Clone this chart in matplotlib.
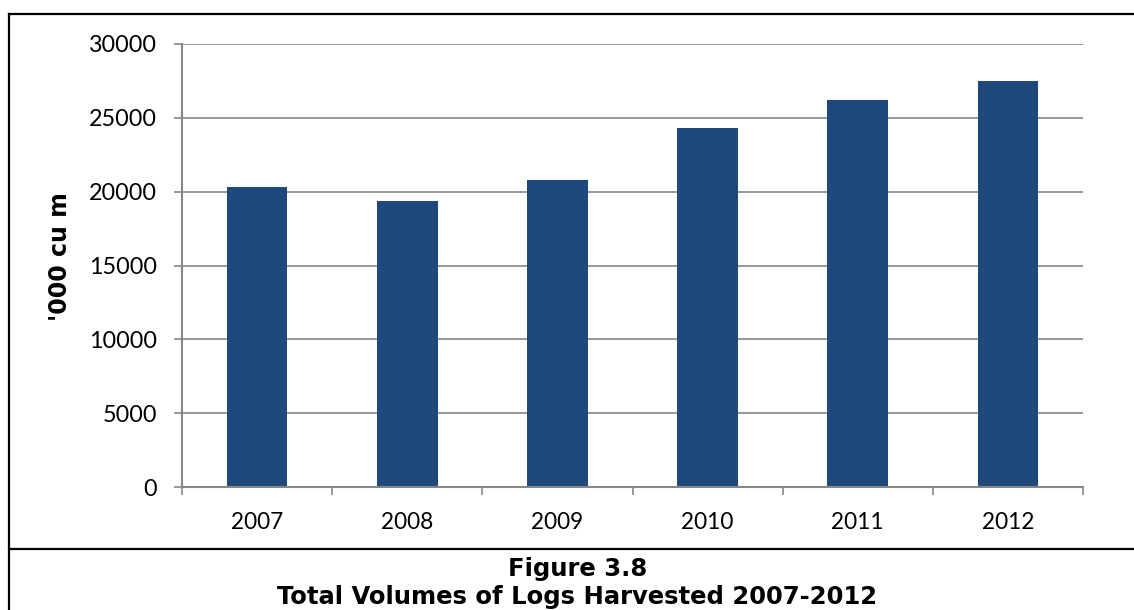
import numpy as np
import matplotlib
matplotlib.use('Agg')
from matplotlib import pyplot as plt
from matplotlib.lines import Line2D

years = ['2007', '2008', '2009', '2010', '2011', '2012']
volumes = [20300, 19400, 20800, 24300, 26200, 27500]
y_ticks = [0, 5000, 10000, 15000, 20000, 25000, 30000]

bar_color = '#1f497d'
grid_color = '#878787'
label_font = 'Lato'


def main():
    fig = plt.figure(figsize=(11.34, 6.10), dpi=100)
    ax = fig.add_axes([182/1134, 1-487/610, 901/1134, 443/610])

    x = np.arange(len(years))
    ax.bar(x, volumes, width=0.405, color=bar_color, zorder=2)

    ax.set_xlim(-0.5, len(years)-0.5)
    ax.set_ylim(0, 30000)
    ax.set_yticks(y_ticks)
    ax.set_yticklabels([str(v) for v in y_ticks], fontsize=16.8, family=label_font)
    ax.yaxis.grid(True, color=grid_color, linewidth=1.2, zorder=0)
    ax.set_axisbelow(True)

    # boundaries get the outward ticks, centres get the labels
    ax.set_xticks(np.arange(-0.5, len(years), 1.0))
    ax.set_xticklabels([])
    ax.set_xticks(list(x) + [len(years)-0.5], minor=True)
    ax.set_xticklabels(years + [''], minor=True, fontsize=16.3, family=label_font)

    ax.tick_params(axis='y', which='major', direction='out', length=6, width=1.2,
                   color=grid_color, pad=12)
    ax.tick_params(axis='x', which='major', direction='out', length=6, width=1.2,
                   color=grid_color)
    ax.tick_params(axis='x', which='minor', direction='in', length=5, width=1.2,
                   color=grid_color, pad=18)
    for t in ax.xaxis.get_minor_ticks():
        t.tick1line.set_zorder(5)

    for side in ['top', 'right']:
        ax.spines[side].set_visible(False)
    for side in ['left', 'bottom']:
        ax.spines[side].set_color(grid_color)
        ax.spines[side].set_linewidth(1.5)

    ax.set_ylabel("'000 cu m", fontsize=17, fontweight='bold', family='DejaVu Sans')
    ax.yaxis.set_label_coords((72-182)/901, 0.52)

    # frame around the figure and caption
    lw = 1.6
    fig.add_artist(Line2D([9/1134, 1], [1-14/610, 1-14/610], color='black', lw=lw))
    fig.add_artist(Line2D([9/1134, 9/1134], [0, 1-14/610], color='black', lw=lw))
    fig.add_artist(Line2D([9/1134, 1], [1-549/610, 1-549/610], color='black', lw=lw))

    fig.text(0.509, 1-576/610, 'Figure 3.8', ha='center', va='baseline',
             fontsize=17.5, fontweight='bold', family='DejaVu Sans')
    fig.text(0.509, 1-604/610, 'Total Volumes of Logs Harvested 2007-2012',
             ha='center', va='baseline', fontsize=17.5, fontweight='bold',
             family='DejaVu Sans')

    fig.savefig('out.png', dpi=100)


if __name__ == '__main__':
    main()
